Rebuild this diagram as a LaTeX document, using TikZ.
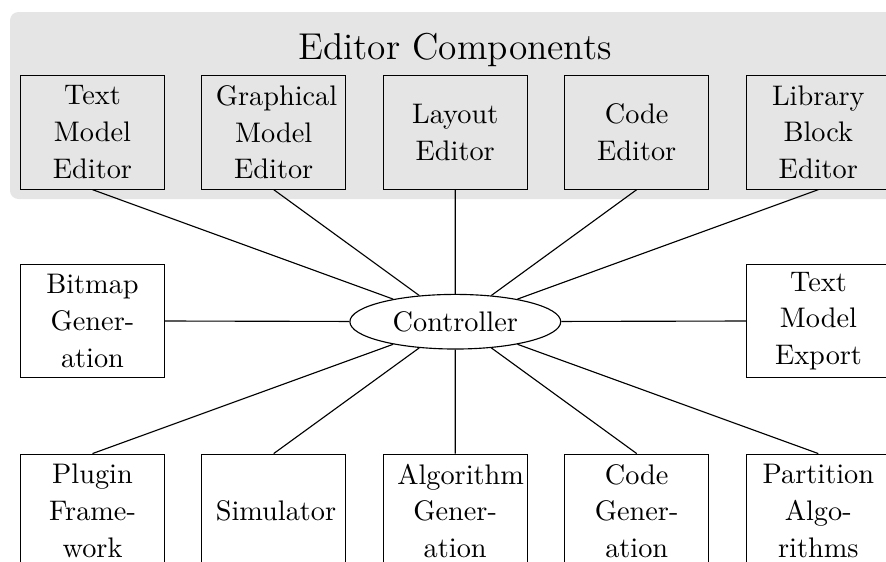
\documentclass[tikz,border=0pt]{standalone}
\usepackage{fontspec}
\usetikzlibrary{shapes.geometric}
\begin{document}
\begin{tikzpicture}[x=0.35336pt,y=-0.35336pt,
  comp/.style={draw, minimum width=50.9pt, minimum height=40.2pt, inner ysep=0pt,
    inner xsep=5pt, text width=40.9pt,
    align=center, font=\fontsize{10pt}{13pt}\selectfont},
  ctrl/.style={draw, ellipse, minimum width=74.5pt, minimum height=19.3pt, inner sep=0pt,
    fill=white, font=\fontsize{10pt}{13pt}\selectfont},
  link/.style={draw, line width=0.4pt},
  bg/.style={fill=black!10, rounded corners=3pt},
  titlestyle/.style={font=\fontsize{13.2pt}{16pt}\selectfont, anchor=base, inner sep=0pt}]
\useasboundingbox (0,0) rectangle (886,561);
\clip (0,0) rectangle (886,561);
% background group
\path[bg] (10,12) rectangle (900,199);
\node[titlestyle] (title) at (455,59.3) {Editor Components};
% top row
\node[comp] (tme) at (92.5,132.2) {Text\\Model\\Editor};
\node[comp] (gme) at (273.7,132.2) {Graphical\\Model\\Editor};
\node[comp] (le)  at (455.2,132.2) {Layout\\Editor};
\node[comp] (ce)  at (636.7,132.2) {Code\\Editor};
\node[comp] (lbe) at (818.3,132.2) {Library\\Block\\Editor};
% middle row
\node[ctrl] (ctl) at (455.3,321.7) {Controller};
\node[comp] (bg2) at (92.5,321) {Bitmap\\Gener-\\ation};
\node[comp] (tmx) at (818.5,321) {Text\\Model\\Export};
% bottom row
\node[comp] (pf)  at (92.5,511) {Plugin\\Frame-\\work};
\node[comp] (sim) at (273.7,511) {Simulator};
\node[comp] (ag)  at (455.2,511) {Algorithm\\Gener-\\ation};
\node[comp] (cg)  at (636.7,511) {Code\\Gener-\\ation};
\node[comp] (pa)  at (818.3,511) {Partition\\Algo-\\rithms};
% connectors
\foreach \n in {tme,gme,le,ce,lbe} \path[link] (\n.south) -- (ctl);
\foreach \n in {pf,sim,ag,cg,pa} \path[link] (\n.north) -- (ctl);
\path[link] (bg2.east) -- (ctl);
\path[link] (tmx.west) -- (ctl);
\end{tikzpicture}
\end{document}
